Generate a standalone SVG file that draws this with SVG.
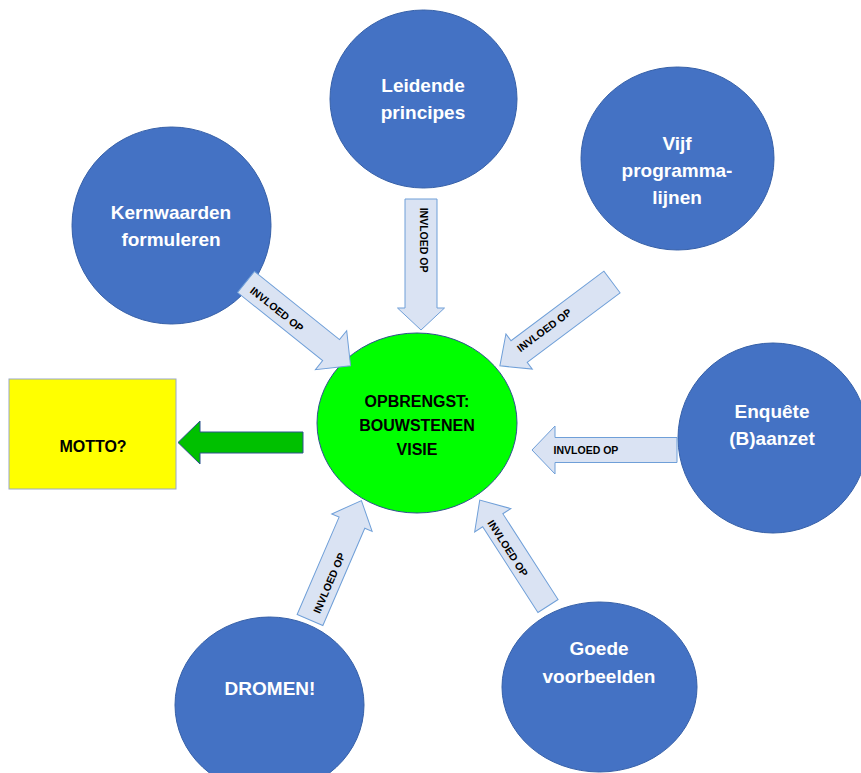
<svg xmlns="http://www.w3.org/2000/svg" width="861" height="773" viewBox="0 0 861 773">
<style>
.node{fill:#4472c4;stroke:#3660a8;stroke-width:1}
.lbl{font-family:"Liberation Sans",Arial,sans-serif;font-weight:bold;font-size:19px;fill:#ffffff;text-anchor:middle}
.dark{font-family:"Liberation Sans",Arial,sans-serif;font-weight:bold;font-size:16px;fill:#000000;text-anchor:middle}
.arr{fill:#dae3f3;stroke:#6f9fd8;stroke-width:1}
.al{font-family:"Liberation Sans",Arial,sans-serif;font-weight:bold;font-size:10.5px;fill:#000000;text-anchor:middle}
</style>
<rect width="861" height="773" fill="#ffffff"/>
<g id="leidende">
<ellipse class="node" cx="423.5" cy="99" rx="93.5" ry="89"/>
<text class="lbl" x="423" y="92">Leidende</text>
<text class="lbl" x="423" y="119">principes</text>
</g>
<g id="vijf">
<ellipse class="node" cx="677.5" cy="158.5" rx="96.5" ry="91.5"/>
<text class="lbl" x="677" y="150">Vijf</text>
<text class="lbl" x="677" y="177">programma-</text>
<text class="lbl" x="677" y="204">lijnen</text>
</g>
<g id="kernwaarden">
<ellipse class="node" cx="171.5" cy="225.5" rx="99.5" ry="98.5"/>
<text class="lbl" x="171" y="219">Kernwaarden</text>
<text class="lbl" x="171" y="246">formuleren</text>
</g>
<g id="enquete">
<ellipse class="node" cx="773" cy="438" rx="95" ry="95"/>
<text class="lbl" x="772" y="418">Enquête</text>
<text class="lbl" x="772" y="445">(B)aanzet</text>
</g>
<g id="goede">
<ellipse class="node" cx="599.5" cy="687" rx="97.5" ry="85"/>
<text class="lbl" x="599" y="655">Goede</text>
<text class="lbl" x="599" y="683">voorbeelden</text>
</g>
<g id="dromen">
<ellipse class="node" cx="269.5" cy="705" rx="94.5" ry="88"/>
<text class="lbl" x="270" y="695">DROMEN!</text>
</g>
<g id="opbrengst">
<ellipse cx="417" cy="423" rx="100" ry="90" fill="#00ff00" stroke="#2f528f" stroke-width="1"/>
<text class="dark" x="417" y="407">OPBRENGST:</text>
<text class="dark" x="417" y="431">BOUWSTENEN</text>
<text class="dark" x="417" y="455">VISIE</text>
</g>
<g id="motto">
<rect x="9" y="379" width="167" height="110" fill="#ffff00" stroke="#9aa8c8" stroke-width="1"/>
<text class="dark" x="93" y="452">MOTTO?</text>
</g>
<g id="connectors">
<polygon class="arr" transform="translate(421,199) rotate(90)" points="0,-16 109,-16 109,-23.5 131,0 109,23.5 109,16 0,16"/>
<text class="al" transform="translate(424,240) rotate(90)" y="4">INVLOED OP</text>
<polygon class="arr" transform="translate(246,282) rotate(38.7)" points="0,-13.5 109,-13.5 109,-25 134,0 109,25 109,13.5 0,13.5"/>
<text class="al" transform="translate(277,309) rotate(38.7)" y="4">INVLOED OP</text>
<polygon class="arr" transform="translate(612,282) rotate(143.2)" points="0,-13.5 116,-13.5 116,-22 140,0 116,22 116,13.5 0,13.5"/>
<text class="al" transform="translate(544,330) rotate(-36.8)" y="4">INVLOED OP</text>
<polygon class="arr" transform="translate(677,450) rotate(180)" points="0,-12.5 122,-12.5 122,-24 145,0 122,24 122,12.5 0,12.5"/>
<text class="al" x="586" y="454">INVLOED OP</text>
<polygon class="arr" transform="translate(310,620) rotate(-66.7)" points="0,-14 106,-14 106,-22 130,0 106,22 106,14 0,14"/>
<text class="al" transform="translate(329,583) rotate(-66.7)" y="4">INVLOED OP</text>
<polygon class="arr" transform="translate(548,606) rotate(-122.8)" points="0,-12 102,-12 102,-21.5 126,0 102,21.5 102,12 0,12"/>
<text class="al" transform="translate(508,548) rotate(57.2)" y="4">INVLOED OP</text>
<polygon transform="translate(303,442.5) rotate(180)" points="0,-10.5 103,-10.5 103,-21.5 125,0 103,21.5 103,10.5 0,10.5" fill="#00c000" stroke="#2f528f" stroke-width="1"/>
</g>
</svg>
